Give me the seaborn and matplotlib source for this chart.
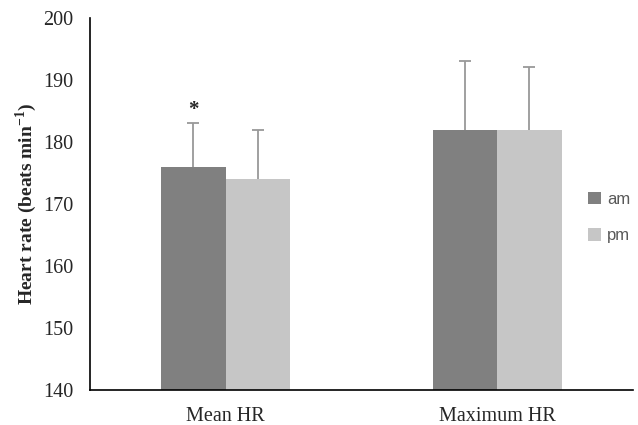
import matplotlib
matplotlib.use("Agg")
import matplotlib.pyplot as plt
import seaborn as sns
import pandas as pd

categories = ["Mean HR", "Maximum HR"]
sessions = ["am", "pm"]
am_values = [176, 182]
pm_values = [174, 182]
am_sd = [7, 11]
pm_sd = [8, 10]
colors = {"am": "#808080", "pm": "#c6c6c6"}

df = pd.DataFrame({
    "measure": categories * 2,
    "session": ["am"] * 2 + ["pm"] * 2,
    "hr": am_values + pm_values,
    "sd": am_sd + pm_sd,
})

sns.set_style("white")
plt.rcParams["font.family"] = ["Liberation Serif", "DejaVu Serif"]
plt.rcParams["mathtext.fontset"] = "custom"
plt.rcParams["mathtext.rm"] = "Liberation Serif:bold"

fig = plt.figure(figsize=(6.38, 4.25), dpi=100)
ax = fig.add_axes([0.141, 0.082, 0.851, 0.876])

sns.barplot(data=df, x="measure", y="hr", hue="session", order=categories,
            hue_order=sessions, palette=colors, width=0.475, errorbar=None,
            linewidth=0, ax=ax)

# upper-only error bars at bar centres
for cont, s in zip(ax.containers, sessions):
    sub = df[df.session == s].set_index("measure").loc[categories]
    xs = [p.get_x() + p.get_width() / 2 for p in cont.patches]
    eb = ax.errorbar(xs, sub.hr, yerr=[[0] * len(xs), sub.sd], fmt="none",
                     ecolor="#999999", elinewidth=1.3, capsize=4.5, capthick=1.3)
    eb[1][0].set_visible(False)  # hide the lower cap

# significance marker over the am mean bar
p = ax.containers[0].patches[0]
ax.text(p.get_x() + p.get_width() / 2, 185.2, "*", ha="center", va="center",
        fontsize=15, fontweight="bold")

ax.set_ylim(140, 200)
ax.set_yticks(range(140, 201, 10))
ax.set_xlim(-0.5, 1.5)
ax.tick_params(axis="y", length=0, labelsize=14.5, pad=12)
ax.tick_params(axis="x", length=0, labelsize=14.5, pad=12)
ax.set_xlabel("")
ax.set_ylabel("Heart rate (beats min$^{\\mathrm{-1}}$)", fontsize=14,
              fontweight="bold", labelpad=3)
for side in ["top", "right"]:
    ax.spines[side].set_visible(False)
for side in ["left", "bottom"]:
    ax.spines[side].set_color("black")
    ax.spines[side].set_linewidth(1.2)

leg = ax.legend(loc="center left", bbox_to_anchor=(0.89, 0.464), frameon=False,
                handlelength=0.75, handleheight=0.75, handletextpad=0.4,
                labelspacing=1.3, prop={"family": "Liberation Sans", "size": 12})
for t in leg.get_texts():
    t.set_color("#595959")

fig.savefig("out.png", dpi=100)
